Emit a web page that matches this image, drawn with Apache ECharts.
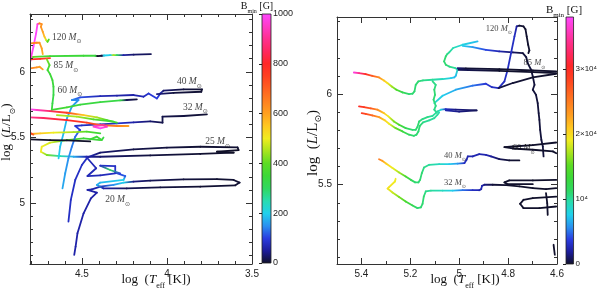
<!DOCTYPE html>
<html><head><meta charset="utf-8">
<script src="https://cdn.jsdelivr.net/npm/echarts@6/dist/echarts.min.js"></script>
<style>html,body{margin:0;padding:0;background:#fff}#c{width:600px;height:288px}</style>
</head><body><div id="c"></div>
<script>
// ---------- axis ranges & ticks ----------
const leftXRange = [3.5, 4.805];
const leftYRange = [4.536, 6.44];
const rightXRange = [4.6, 5.5];
const rightYRange = [5.063, 6.425];
const leftXMajor = [3.5, 4, 4.5];
const leftXMinor = [3.6, 3.7, 3.8, 3.9, 4.1, 4.2, 4.3, 4.4, 4.6, 4.7, 4.8];
const leftYMajor = [5, 5.5, 6];
const leftYMinor = [4.6, 4.7, 4.8, 4.9, 5.1, 5.2, 5.3, 5.4, 5.6, 5.7, 5.8, 5.9, 6.1, 6.2, 6.3, 6.4];
const rightXMajor = [4.6, 4.8, 5, 5.2, 5.4];
const rightXMinor = [4.7, 4.9, 5.1, 5.3];
const rightYMajor = [5.5, 6];
const rightYMinor = [5.1, 5.2, 5.3, 5.4, 5.6, 5.7, 5.8, 5.9, 6.1, 6.2, 6.3, 6.4];
const leftBarRange = [0, 1000];
const leftBarTicks = [0, 200, 400, 600, 800, 1000];
const rightBarRange = [0, 38000];
const rightBarTicks = [0, 10000, 20000, 30000];
const rightBarLabels = ['0', '10⁴', '2×10⁴', '3×10⁴'];
const cmap = ['#101028', '#1c1c9a', '#2a3ce0', '#2a90f0', '#20d0ec', '#28dcb0', '#30d860', '#3cd838', '#5cdc24', '#a8e41e', '#f0ec20',
              '#ffc820', '#ffa020', '#ff8020', '#ff6020', '#ff4020', '#ff2828', '#ff2860', '#ff3090', '#ff3cc8', '#ff46ff'];

// ---------- left panel tracks: [log Teff, log L, Bmin (G)] ----------
const L20 = [[4.545,4.605,60],[4.537,4.668,60],[4.526,4.770,60],[4.490,4.922,60],[4.447,5.036,60],[4.412,5.079,60],[4.467,5.100,60],[4.441,5.105,60],[4.392,5.125,70],[4.314,5.138,150],[4.255,5.156,200],[4.196,5.163,40],[4.098,5.171,20],[3.902,5.181,10],[3.706,5.183,5],[3.608,5.176,5],[3.573,5.156,5],[3.598,5.135,5],[3.804,5.125,5],[4.039,5.120,10],[4.236,5.112,20],[4.373,5.112,60],[4.412,5.138,170],[4.392,5.156,180],[4.255,5.176,200],[4.245,5.206,120],[4.304,5.232,90],[4.304,5.282,80],[4.392,5.285,80],[4.334,5.252,300],[4.275,5.227,100]];
const L25 = [[4.579,4.859,80],[4.565,5.024,80],[4.539,5.176,80],[4.500,5.290,80],[4.467,5.348,80],[4.392,5.384,30],[4.196,5.409,15],[4.000,5.422,10],[3.804,5.429,5],[3.585,5.424,5],[3.579,5.404,0],[3.706,5.391,0],[3.608,5.384,0],[3.804,5.374,5],[4.098,5.363,10],[4.392,5.353,30],[4.471,5.353,60],[4.549,5.353,170],[4.628,5.358,250],[4.706,5.366,420],[4.741,5.391,500],[4.736,5.429,500],[4.687,5.460,480],[4.588,5.480,400],[4.490,5.493,350],[4.392,5.480,350]];
const L25b = [[4.475,5.353,70],[4.416,5.265,70],[4.467,5.206,70],[4.392,5.211,70],[4.304,5.227,80]];
const L32 = [[4.614,5.112,170],[4.598,5.227,160],[4.579,5.341,150],[4.559,5.429,140],[4.539,5.506,130],[4.520,5.544,110],[4.510,5.556,100],[4.539,5.587,90],[4.500,5.592,80],[4.392,5.599,60],[4.294,5.607,90],[4.196,5.615,60],[4.098,5.622,30],[4.026,5.612,15],[4.026,5.658,15],[3.902,5.663,10],[3.765,5.676,5]];
const L40 = [[4.637,5.341,200],[4.628,5.429,190],[4.608,5.531,185],[4.588,5.645,175],[4.559,5.734,165],[4.520,5.785,150],[4.559,5.785,150],[4.510,5.805,110],[4.392,5.815,70],[4.294,5.818,60],[4.196,5.823,60],[4.138,5.810,70],[4.108,5.835,90],[4.059,5.797,100],[4.039,5.835,80],[4.020,5.856,30],[3.902,5.866,10],[3.794,5.866,5],[3.798,5.848,5],[3.961,5.840,10],[4.059,5.830,40]];
const L60 = [[4.677,5.709,350],[4.588,5.729,360],[4.510,5.749,340],[4.392,5.769,340],[4.275,5.782,330],[4.236,5.785,20],[4.177,5.790,10]];
const L120a = [[4.804,6.109,480],[4.785,6.114,400],[4.687,6.119,350],[4.490,6.122,350],[4.422,6.122,340],[4.408,6.119,0],[4.383,6.122,10],[4.369,6.124,200],[4.334,6.127,200],[4.314,6.127,450],[4.294,6.127,300],[4.255,6.127,60],[4.196,6.130,30],[4.094,6.135,20]];
const L120b = [[4.804,6.076,950],[4.785,6.191,1000],[4.769,6.292,1000],[4.761,6.363,980],[4.749,6.368,650],[4.736,6.363,620],[4.741,6.343,620],[4.730,6.305,600],[4.720,6.267,560],[4.710,6.241,480],[4.702,6.229,400],[4.694,6.246,380]];
const L85a = [[4.804,6.216,650],[4.765,6.221,640],[4.749,6.221,620],[4.736,6.178,600],[4.730,6.135,580]];
const L85b = [[4.804,6.094,800],[4.745,6.099,780],[4.687,6.104,750]];
const L85c = [[4.804,6.026,650],[4.765,6.033,620],[4.749,6.038,600],[4.730,6.018,600]];
const L85d = [[4.706,6.094,420],[4.690,6.051,380],[4.702,6.013,360],[4.687,5.982,350],[4.673,5.937,350],[4.667,5.886,340],[4.667,5.823,330],[4.673,5.759,330],[4.677,5.709,350]];
const LB1 = [[4.804,5.714,1000],[4.765,5.709,950],[4.687,5.701,850],[4.588,5.688,750],[4.490,5.670,550],[4.412,5.653,450],[4.353,5.632,380],[4.294,5.612,350]];
const LB2 = [[4.804,5.653,900],[4.726,5.648,850],[4.588,5.632,800],[4.471,5.612,750],[4.392,5.594,700],[4.294,5.587,650],[4.226,5.587,600]];
const LB3 = [[4.647,5.670,450],[4.530,5.658,450],[4.432,5.637,380],[4.314,5.620,350]];
const LB4 = [[4.432,5.582,950],[4.392,5.569,1000],[4.353,5.582,950],[4.373,5.594,900],[4.422,5.587,950]];
const LC1 = [[4.804,5.526,600],[4.745,5.531,550],[4.667,5.536,500],[4.549,5.541,450],[4.471,5.544,380],[4.392,5.531,350]];
const LC2 = [[4.804,5.485,0],[4.687,5.480,0],[4.588,5.478,0],[4.451,5.470,0]];
const LC3 = [[4.451,5.485,350],[4.412,5.506,350],[4.383,5.480,350],[4.373,5.500,330]];
const LC4 = [[4.804,5.536,800],[4.785,5.521,700]];

// ---------- right panel tracks: [log Teff, log L, Bmin (G)] ----------
const RA = [[5.431,6.119,37000],[5.410,6.116,34000],[5.383,6.110,30000],[5.356,6.101,27000],[5.328,6.092,24000],[5.308,6.075,21000],[5.294,6.061,19500],[5.276,6.042,17000],[5.257,6.024,14500],[5.232,6.009,12000],[5.205,6.000,11000],[5.191,6.002,11000],[5.183,6.015,11000],[5.178,6.051,11000],[5.167,6.070,11000],[5.148,6.075,10500],[5.109,6.079,10000],[5.068,6.083,9000],[5.034,6.088,7500],[5.020,6.092,7000],[5.014,6.101,7000],[5.007,6.134,9000],[5.016,6.143,10000],[5.041,6.152,10500],[5.055,6.162,11000],[5.062,6.180,11000],[5.055,6.208,11000],[5.048,6.222,10500],[5.041,6.230,10000],[5.025,6.254,9500],[4.986,6.272,8000],[4.925,6.290,7000]];
const RB = [[4.986,6.266,7500],[4.945,6.259,6000],[4.891,6.244,4000],[4.836,6.235,2500],[4.781,6.230,1000],[4.740,6.226,300],[4.726,6.204,300],[4.720,6.171,300],[4.706,6.134,300],[4.699,6.097,300],[4.692,6.051,300],[4.699,6.024,300],[4.686,5.996,300],[4.679,5.950,300],[4.675,5.895,300],[4.672,5.858,300],[4.669,5.803,300],[4.664,5.748,300],[4.658,5.711,300],[4.655,5.656,300]];
const RC = [[5.102,5.950,9000],[5.068,5.991,7500],[5.014,6.024,6500],[4.945,6.046,5000],[4.891,6.057,3500],[4.866,6.038,3000],[4.839,6.033,3000],[4.815,6.070,3000],[4.802,6.134,3000],[4.788,6.226,3000],[4.774,6.318,3000],[4.765,6.373,2000],[4.754,6.377,200],[4.737,6.373,100],[4.729,6.358,100],[4.724,6.318,100],[4.718,6.272,100],[4.713,6.241,100],[4.717,6.226,100]];
const RD1 = [[5.007,6.143,1500],[4.973,6.141,300],[4.836,6.138,100],[4.699,6.130,50],[4.603,6.125,50]];
const RD2 = [[5.003,6.134,800],[4.836,6.128,100],[4.699,6.121,50],[4.603,6.116,50]];
const RD3 = [[4.839,6.033,500],[4.781,6.061,200],[4.699,6.092,100],[4.603,6.112,50]];
const RF = [[5.410,5.932,30000],[5.390,5.928,29000],[5.362,5.921,27000],[5.335,5.914,24000],[5.308,5.895,21000],[5.290,5.877,19000],[5.267,5.849,16000],[5.246,5.831,14000],[5.219,5.812,12000],[5.191,5.803,11000],[5.178,5.803,11000],[5.171,5.818,11000],[5.164,5.849,11000],[5.150,5.862,10500],[5.130,5.873,10500],[5.109,5.880,10000],[5.096,5.895,10000],[5.089,5.904,10000],[5.075,5.914,8000],[5.055,5.917,3000],[5.014,5.914,1500],[4.929,5.910,800],[5.000,5.903,1500],[5.055,5.910,2500]];
const RG = [[5.399,5.895,29000],[5.383,5.891,28000],[5.356,5.882,26000],[5.328,5.873,23000],[5.304,5.855,20500],[5.287,5.836,19000],[5.260,5.812,15500],[5.232,5.794,13000],[5.205,5.776,11500],[5.185,5.770,11000],[5.175,5.776,11000],[5.167,5.794,11000],[5.161,5.825,11000],[5.148,5.844,10500],[5.123,5.855,10000],[5.102,5.867,10000],[5.089,5.886,10000],[5.082,5.899,9500]];
const RW = [[5.109,6.070,10500],[5.096,6.051,10500],[5.102,6.024,11000],[5.099,5.996,11000],[5.105,5.969,11000],[5.096,5.935,10500],[5.102,5.914,10500],[5.093,5.899,10000]];
const R40 = [[5.328,5.641,25000],[5.315,5.632,23000],[5.298,5.616,20500],[5.273,5.592,19000],[5.246,5.568,17000],[5.219,5.546,14000],[5.198,5.527,12000],[5.180,5.513,11000],[5.167,5.513,11000],[5.160,5.527,11000],[5.153,5.564,11000],[5.144,5.595,10500],[5.123,5.610,10000],[5.082,5.614,9000],[5.041,5.614,7500],[5.007,5.616,6000],[4.979,5.619,3000],[4.970,5.638,2500],[4.965,5.656,2500],[4.945,5.656,2500],[4.918,5.669,2500],[4.891,5.665,2500],[4.870,5.656,2000],[4.836,5.641,800],[4.795,5.634,200],[4.754,5.634,100]];
const R32 = [[5.260,5.533,19000],[5.263,5.518,19000],[5.287,5.487,19500],[5.293,5.479,19500],[5.273,5.457,18000],[5.246,5.432,16000],[5.219,5.408,14000],[5.191,5.386,12000],[5.171,5.371,11000],[5.157,5.375,11000],[5.150,5.395,11000],[5.145,5.435,11000],[5.137,5.463,10500],[5.116,5.468,10000],[5.068,5.468,9000],[5.027,5.468,7500],[4.986,5.470,5000],[4.945,5.470,3000],[4.918,5.470,2500],[4.910,5.476,2500],[4.907,5.494,2500],[4.897,5.500,1500],[4.863,5.500,300],[4.808,5.498,100],[4.754,5.491,50],[4.699,5.481,50],[4.645,5.476,50],[4.603,5.481,50]];
const RN1 = [[4.603,5.733,50],[4.699,5.718,50],[4.781,5.711,50],[4.815,5.707,50],[4.781,5.700,50],[4.699,5.693,50],[4.617,5.684,50],[4.603,5.674,50]];
const RN2 = [[4.603,5.527,50],[4.699,5.524,50],[4.795,5.524,50],[4.815,5.513,50],[4.802,5.503,50],[4.699,5.503,50]];
const RN3 = [[4.603,5.435,50],[4.699,5.426,50],[4.737,5.417,50],[4.751,5.395,50],[4.737,5.371,50],[4.672,5.371,50],[4.603,5.380,50]];
const RN4 = [[4.645,5.454,50],[4.640,5.399,50],[4.638,5.334,50]];
const RN5 = [[4.614,5.169,50],[4.609,5.114,50]];

// ---------- mass labels: [log Teff, log L, mass] ----------
const leftMassLabels = [[4.676,6.262,'120'],[4.667,6.046,'85'],[4.644,5.861,'60'],[3.941,5.924,'40'],[3.906,5.729,'32'],[3.775,5.467,'25'],[4.363,5.024,'20']];
const rightMassLabels = [[4.891,6.360,'120'],[4.737,6.171,'85'],[4.781,5.702,'60'],[5.062,5.660,'40'],[5.062,5.513,'32']];

const leftTracks = [L20, L25, L25b, L32, L40, L60, L120a, L120b, L85a, L85b, L85c, L85d, LB1, LB2, LB3, LB4, LC1, LC2, LC3, LC4];
const rightTracks = [RA, RB, RC, RD1, RD2, RD3, RF, RG, RW, R40, R32, RN1, RN2, RN3, RN4, RN5];

// ---------- helpers ----------
const SANS = 'Liberation Sans, Arial, sans-serif';
const SERIF = 'Liberation Serif, Times New Roman, serif';
const AXC = '#333';

function flatten(tracks) {
  const out = [];
  tracks.forEach((t, k) => t.forEach(p => out.push([p[0], p[1], p[2], k])));
  return out;
}
function segRenderer(flat) {
  return function (params, api) {
    const i = params.dataIndex;
    if (i === 0 || flat[i - 1][3] !== flat[i][3]) return null;
    const a = api.coord([flat[i - 1][0], flat[i - 1][1]]);
    const b = api.coord([flat[i][0], flat[i][1]]);
    const c0 = api.visual('color', i - 1);
    const c1 = api.visual('color', i);
    return {
      type: 'line',
      shape: { x1: a[0], y1: a[1], x2: b[0], y2: b[1] },
      style: {
        stroke: new echarts.graphic.LinearGradient(a[0], a[1], b[0] + 0.01, b[1] + 0.01, [{ offset: 0, color: c0 }, { offset: 1, color: c1 }], true),
        lineWidth: 1.8, lineCap: 'round', lineJoin: 'round'
      }
    };
  };
}
function barRenderer(range) {
  return function (params, api) {
    if (params.dataIndex !== 0) return null;
    const p0 = api.coord([0, range[1]]);
    const p1 = api.coord([1, range[0]]);
    return {
      type: 'rect',
      shape: { x: p0[0], y: p0[1], width: p1[0] - p0[0], height: p1[1] - p0[1] },
      style: {
        fill: new echarts.graphic.LinearGradient(0, 1, 0, 0, cmap.map((c, k) => ({ offset: k / (cmap.length - 1), color: c }))),
        stroke: '#222', lineWidth: 0.8
      }
    };
  };
}
function sideAxes(gridIndex, position, range, inverse, major, minor, showLabels) {
  const base = { gridIndex, type: 'value', position, min: range[0], max: range[1], inverse, splitLine: { show: false }, z: 5 };
  return [
    Object.assign({}, base, {
      axisLine: { show: true, onZero: false, lineStyle: { color: AXC, width: 1 } },
      axisTick: { show: true, inside: true, length: 6, customValues: major, lineStyle: { color: AXC, width: 1 } },
      axisLabel: { show: showLabels, customValues: major, fontFamily: SANS, fontSize: 10, color: '#222', margin: 5 }
    }),
    Object.assign({}, base, {
      axisLine: { show: false, onZero: false },
      axisTick: { show: true, inside: true, length: 3, customValues: minor, lineStyle: { color: AXC, width: 1 } },
      axisLabel: { show: false }
    })
  ];
}
function barYAxis(gridIndex, range, ticks, formatter, fontSize) {
  return {
    gridIndex, type: 'value', position: 'right', min: range[0], max: range[1], z: 5,
    splitLine: { show: false }, axisLine: { show: false },
    axisTick: { show: true, inside: true, length: 3, customValues: ticks, lineStyle: { color: '#222' } },
    axisLabel: { show: true, customValues: ticks, formatter, fontFamily: SANS, fontSize, color: '#222', margin: 2 }
  };
}
function hiddenX(gridIndex) { return { gridIndex, type: 'value', min: 0, max: 1, show: false }; }
function massSeries(xi, yi, labels, size) {
  return {
    type: 'scatter', xAxisIndex: xi, yAxisIndex: yi, symbolSize: 0, silent: true, z: 10,
    data: labels.map(l => ({ name: l[2], value: [l[0], l[1]] })),
    label: {
      show: true, position: 'right', distance: 0,
      formatter: p => '{n|' + p.name + ' }{m|M}{s|⊙}',
      rich: {
        n: { fontFamily: SERIF, fontSize: size, color: '#111', lineHeight: size + 5 },
        m: { fontFamily: SERIF, fontStyle: 'italic', fontSize: size, color: '#111', lineHeight: size + 5 },
        s: { fontFamily: 'DejaVu Sans', fontSize: Math.round(size * 0.6), color: '#111', verticalAlign: 'bottom', lineHeight: Math.round(size * 0.6) }
      }
    }
  };
}
function titleRich(size) {
  const sub = Math.round(size * 0.62);
  return {
    a: { fontFamily: SERIF, fontSize: size, color: '#111', lineHeight: size + 6 },
    i: { fontFamily: SERIF, fontStyle: 'italic', fontSize: size, color: '#111', lineHeight: size + 6 },
    s: { fontFamily: SERIF, fontSize: sub, color: '#111', verticalAlign: 'bottom', lineHeight: sub },
    o: { fontFamily: 'DejaVu Sans', fontSize: sub, color: '#111', verticalAlign: 'bottom', lineHeight: sub }
  };
}
function textEl(x, y, text, size, rotation) {
  return { type: 'text', x, y, rotation: rotation || 0, silent: true,
    style: { text, rich: titleRich(size), align: 'center', verticalAlign: 'middle', fill: '#111' } };
}

const leftFlat = flatten(leftTracks);
const rightFlat = flatten(rightTracks);

const chart = echarts.init(document.getElementById('c'));
chart.setOption({
  animation: false,
  backgroundColor: '#fff',
  textStyle: { fontFamily: SANS },
  grid: [
    { left: 30, top: 14, width: 222, height: 250 },
    { left: 262, top: 14, width: 9, height: 249 },
    { left: 337, top: 17, width: 220, height: 247 },
    { left: 566, top: 17, width: 10, height: 247 }
  ],
  xAxis: [
    ...sideAxes(0, 'bottom', leftXRange, true, leftXMajor, leftXMinor, true),
    ...sideAxes(0, 'top', leftXRange, true, leftXMajor, leftXMinor, false),
    hiddenX(1),
    ...sideAxes(2, 'bottom', rightXRange, true, rightXMajor, rightXMinor, true),
    ...sideAxes(2, 'top', rightXRange, true, rightXMajor, rightXMinor, false),
    hiddenX(3)
  ],
  yAxis: [
    ...sideAxes(0, 'left', leftYRange, false, leftYMajor, leftYMinor, true),
    ...sideAxes(0, 'right', leftYRange, false, leftYMajor, leftYMinor, false),
    barYAxis(1, leftBarRange, leftBarTicks, v => String(v), 9),
    ...sideAxes(2, 'left', rightYRange, false, rightYMajor, rightYMinor, true),
    ...sideAxes(2, 'right', rightYRange, false, rightYMajor, rightYMinor, false),
    barYAxis(3, rightBarRange, rightBarTicks, v => rightBarLabels[rightBarTicks.indexOf(v)] || '', 8)
  ],
  visualMap: [
    { type: 'continuous', show: false, seriesIndex: 0, dimension: 2, min: leftBarRange[0], max: leftBarRange[1], inRange: { color: cmap } },
    { type: 'continuous', show: false, seriesIndex: 1, dimension: 2, min: rightBarRange[0], max: rightBarRange[1], inRange: { color: cmap } }
  ],
  series: [
    { type: 'custom', xAxisIndex: 0, yAxisIndex: 0, data: leftFlat, encode: { x: 0, y: 1 }, renderItem: segRenderer(leftFlat), clip: true, silent: true },
    { type: 'custom', xAxisIndex: 5, yAxisIndex: 5, data: rightFlat, encode: { x: 0, y: 1 }, renderItem: segRenderer(rightFlat), clip: true, silent: true },
    massSeries(0, 0, leftMassLabels, 9.5),
    massSeries(5, 5, rightMassLabels, 8.5),
    { type: 'custom', xAxisIndex: 4, yAxisIndex: 4, data: [[0, leftBarRange[0]], [1, leftBarRange[1]]], encode: { x: 0, y: 1 }, renderItem: barRenderer(leftBarRange), silent: true },
    { type: 'custom', xAxisIndex: 9, yAxisIndex: 9, data: [[0, rightBarRange[0]], [1, rightBarRange[1]]], encode: { x: 0, y: 1 }, renderItem: barRenderer(rightBarRange), silent: true }
  ],
  graphic: [
    textEl(156, 280, '{a|log  (}{i|T}{s|eff}{a| [K])}', 13),
    textEl(465, 280, '{a|log  (}{i|T}{s|eff}{a| [K])}', 13),
    textEl(7, 132, '{a|log  (}{i|L}{a|/L}{o|⊙}{a|)}', 13, Math.PI / 2),
    textEl(313, 143, '{a|log  (}{i|L}{a|/L}{o|⊙}{a|)}', 15, Math.PI / 2),
    textEl(257, 6, '{a|B}{s|min}{a| [G]}', 10),
    textEl(564, 10, '{a|B}{s|min}{a| [G]}', 11)
  ]
});
</script>
</body></html>
